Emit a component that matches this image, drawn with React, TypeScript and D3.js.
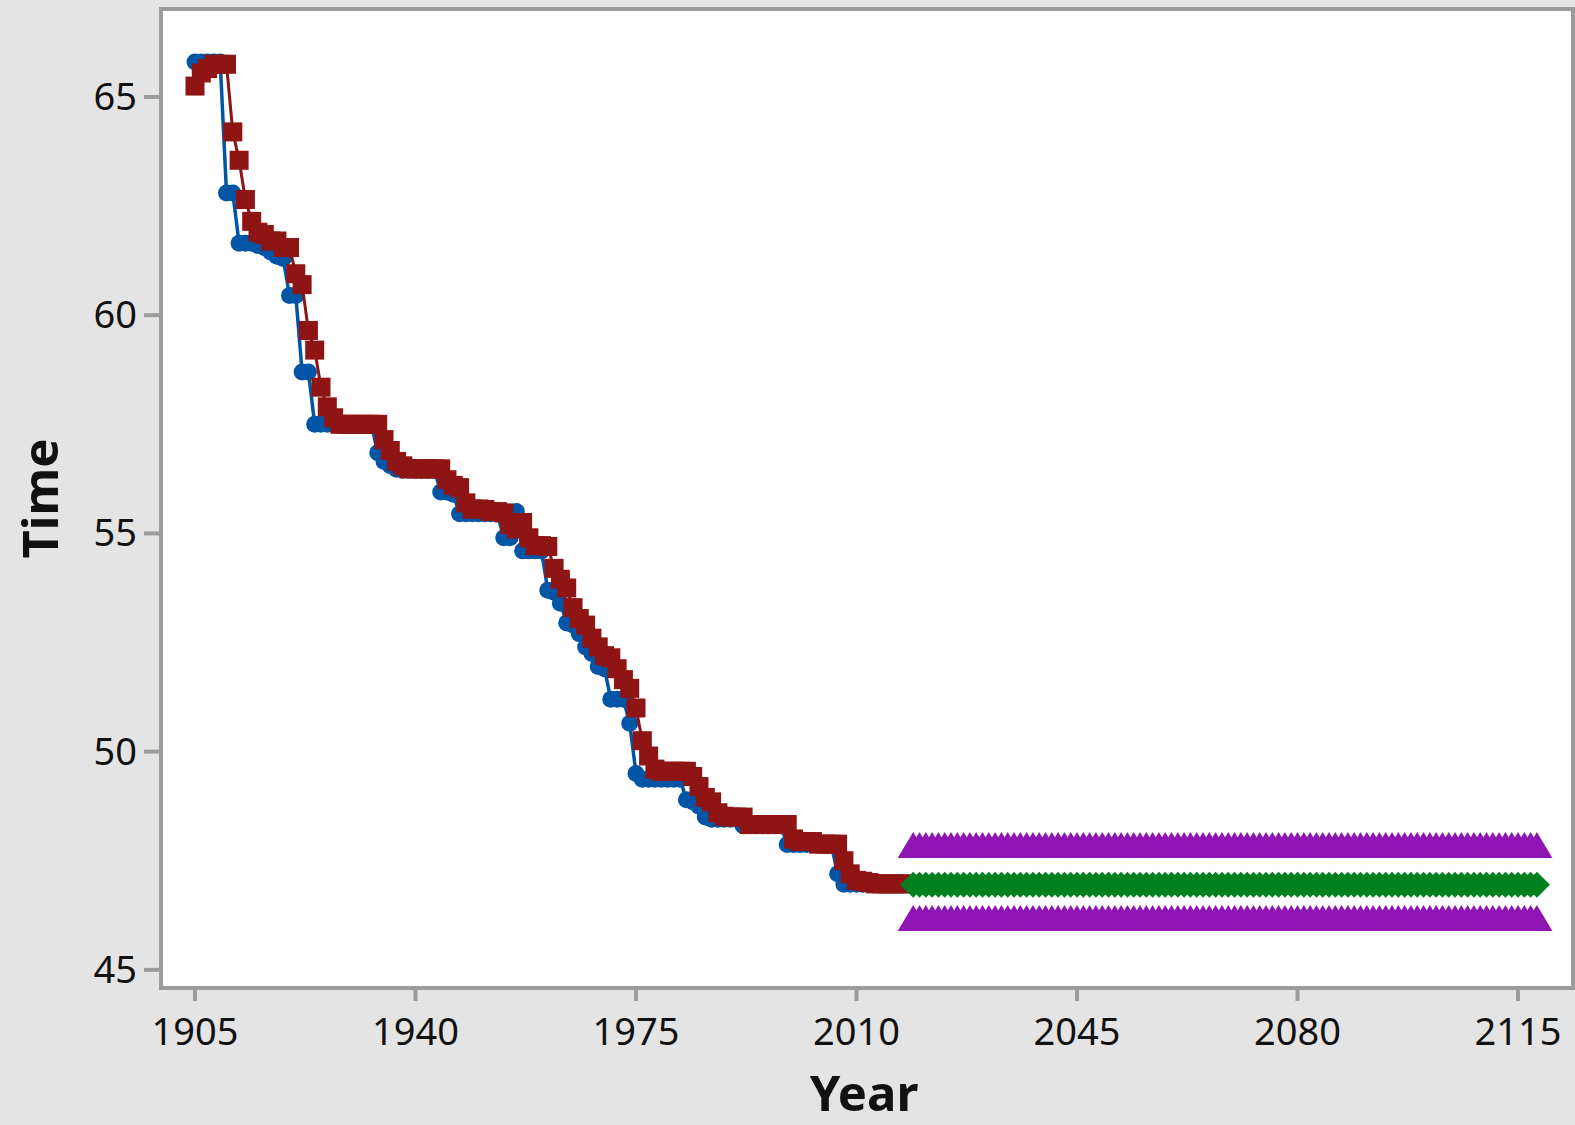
import React from "react";
import * as d3 from "d3";

// ---------- data ----------
const actualYears: number[] = d3.range(1905, 2019);
const forecastYears: number[] = d3.range(2019, 2119);

// Actual series (blue circles)
const actual: number[] = [
  // 1905-1909
  65.8, 65.8, 65.8, 65.8, 65.8,
  // 1910-1919
  62.8, 62.8, 61.65, 61.65, 61.65, 61.6, 61.55, 61.45, 61.35, 61.3,
  // 1920-1929
  60.45, 60.45, 58.7, 58.7, 57.5, 57.5, 57.5, 57.5, 57.5, 57.5,
  // 1930-1939
  57.5, 57.5, 57.5, 57.5, 56.85, 56.65, 56.55, 56.47, 56.45, 56.45,
  // 1940-1949
  56.45, 56.45, 56.45, 56.45, 55.95, 55.95, 55.9, 55.45, 55.45, 55.45,
  // 1950-1959
  55.45, 55.45, 55.45, 55.45, 54.9, 54.9, 55.5, 54.6, 54.6, 54.6,
  // 1960-1969
  54.6, 53.7, 53.65, 53.4, 52.95, 52.9, 52.7, 52.4, 52.25, 51.95,
  // 1970-1979
  51.9, 51.2, 51.2, 51.2, 50.65, 49.5, 49.37, 49.37, 49.37, 49.37,
  // 1980-1989
  49.37, 49.37, 49.37, 48.9, 48.85, 48.75, 48.5, 48.45, 48.45, 48.45,
  // 1990-1999
  48.45, 48.45, 48.3, 48.3, 48.3, 48.3, 48.3, 48.3, 48.3, 47.87,
  // 2000-2009
  47.87, 47.87, 47.87, 47.87, 47.87, 47.87, 47.87, 47.2, 46.96, 46.96,
  // 2010-2018
  46.96, 46.96, 46.96, 46.96, 46.96, 46.96, 46.96, 46.96, 46.96,
];

// Fits (red squares)
const fits: number[] = [
  // 1905-1909
  65.25, 65.55, 65.65, 65.75, 65.75,
  // 1910-1919
  65.75, 64.2, 63.55, 62.65, 62.15, 61.9, 61.85, 61.7, 61.7, 61.55,
  // 1920-1929
  61.55, 60.95, 60.7, 59.65, 59.2, 58.35, 57.9, 57.65, 57.5, 57.5,
  // 1930-1939
  57.5, 57.5, 57.5, 57.5, 57.5, 57.15, 56.9, 56.65, 56.55, 56.48,
  // 1940-1949
  56.48, 56.48, 56.48, 56.48, 56.48, 56.23, 56.1, 56.05, 55.7, 55.56,
  // 1950-1959
  55.56, 55.55, 55.5, 55.5, 55.47, 55.2, 55.1, 55.25, 54.9, 54.72,
  // 1960-1969
  54.72, 54.7, 54.2, 53.95, 53.75, 53.3, 53.05, 52.9, 52.6, 52.4,
  // 1970-1979
  52.2, 52.15, 51.9, 51.65, 51.45, 51.0, 50.25, 49.9, 49.6, 49.55,
  // 1980-1989
  49.55, 49.55, 49.55, 49.55, 49.43, 49.2, 48.95, 48.85, 48.6, 48.52,
  // 1990-1999
  48.5, 48.5, 48.5, 48.33, 48.33, 48.33, 48.33, 48.33, 48.33, 48.33,
  // 2000-2009
  48.0, 47.94, 47.94, 47.94, 47.88, 47.88, 47.88, 47.88, 47.5, 47.2,
  // 2010-2018
  47.05, 47.03, 47.0, 46.97, 46.97, 46.97, 46.97, 46.97, 46.97,
];

// Forecasts 2019-2118 (green diamonds)
const forecast: number[] = [
  46.95, 46.95, 46.95, 46.95, 46.95, 46.95, 46.95, 46.95, 46.95, 46.95,
  46.95, 46.95, 46.95, 46.95, 46.95, 46.95, 46.95, 46.95, 46.95, 46.95,
  46.95, 46.95, 46.95, 46.95, 46.95, 46.95, 46.95, 46.95, 46.95, 46.95,
  46.95, 46.95, 46.95, 46.95, 46.95, 46.95, 46.95, 46.95, 46.95, 46.95,
  46.95, 46.95, 46.95, 46.95, 46.95, 46.95, 46.95, 46.95, 46.95, 46.95,
  46.95, 46.95, 46.95, 46.95, 46.95, 46.95, 46.95, 46.95, 46.95, 46.95,
  46.95, 46.95, 46.95, 46.95, 46.95, 46.95, 46.95, 46.95, 46.95, 46.95,
  46.95, 46.95, 46.95, 46.95, 46.95, 46.95, 46.95, 46.95, 46.95, 46.95,
  46.95, 46.95, 46.95, 46.95, 46.95, 46.95, 46.95, 46.95, 46.95, 46.95,
  46.95, 46.95, 46.95, 46.95, 46.95, 46.95, 46.95, 46.95, 46.95, 46.95,
];

// Upper prediction limit (purple triangles)
const upper: number[] = [
  47.86, 47.86, 47.86, 47.86, 47.86, 47.86, 47.86, 47.86, 47.86, 47.86,
  47.86, 47.86, 47.86, 47.86, 47.86, 47.86, 47.86, 47.86, 47.86, 47.86,
  47.86, 47.86, 47.86, 47.86, 47.86, 47.86, 47.86, 47.86, 47.86, 47.86,
  47.86, 47.86, 47.86, 47.86, 47.86, 47.86, 47.86, 47.86, 47.86, 47.86,
  47.86, 47.86, 47.86, 47.86, 47.86, 47.86, 47.86, 47.86, 47.86, 47.86,
  47.86, 47.86, 47.86, 47.86, 47.86, 47.86, 47.86, 47.86, 47.86, 47.86,
  47.86, 47.86, 47.86, 47.86, 47.86, 47.86, 47.86, 47.86, 47.86, 47.86,
  47.86, 47.86, 47.86, 47.86, 47.86, 47.86, 47.86, 47.86, 47.86, 47.86,
  47.86, 47.86, 47.86, 47.86, 47.86, 47.86, 47.86, 47.86, 47.86, 47.86,
  47.86, 47.86, 47.86, 47.86, 47.86, 47.86, 47.86, 47.86, 47.86, 47.86,
];

// Lower prediction limit (purple triangles)
const lower: number[] = [
  46.19, 46.19, 46.19, 46.19, 46.19, 46.19, 46.19, 46.19, 46.19, 46.19,
  46.19, 46.19, 46.19, 46.19, 46.19, 46.19, 46.19, 46.19, 46.19, 46.19,
  46.19, 46.19, 46.19, 46.19, 46.19, 46.19, 46.19, 46.19, 46.19, 46.19,
  46.19, 46.19, 46.19, 46.19, 46.19, 46.19, 46.19, 46.19, 46.19, 46.19,
  46.19, 46.19, 46.19, 46.19, 46.19, 46.19, 46.19, 46.19, 46.19, 46.19,
  46.19, 46.19, 46.19, 46.19, 46.19, 46.19, 46.19, 46.19, 46.19, 46.19,
  46.19, 46.19, 46.19, 46.19, 46.19, 46.19, 46.19, 46.19, 46.19, 46.19,
  46.19, 46.19, 46.19, 46.19, 46.19, 46.19, 46.19, 46.19, 46.19, 46.19,
  46.19, 46.19, 46.19, 46.19, 46.19, 46.19, 46.19, 46.19, 46.19, 46.19,
  46.19, 46.19, 46.19, 46.19, 46.19, 46.19, 46.19, 46.19, 46.19, 46.19,
];

const xTicks: number[] = [1905, 1940, 1975, 2010, 2045, 2080, 2115];
const yTicks: number[] = [45, 50, 55, 60, 65];
const xTitle = "Year";
const yTitle = "Time";

// ---------- layout ----------
const W = 1575;
const H = 1125;
const plot = { left: 163, right: 1571, top: 11, bottom: 986 };
const BG = "#e4e4e4";
const FRAME = "#9c9c9c";
const FONT = "'Noto Sans', 'Open Sans', 'DejaVu Sans', sans-serif";

const COL_ACTUAL = "#0055a6";
const COL_FITS = "#8f1414";
const COL_FC = "#00801e";
const COL_PI = "#8e15b4";

type Pt = { year: number; v: number };
const zip = (ys: number[], vs: number[]): Pt[] => ys.map((yr, i) => ({ year: yr, v: vs[i] }));

export default function App() {
  const x = d3.scaleLinear().domain([1899.92, 2123.41]).range([plot.left, plot.right]);
  const y = d3.scaleLinear().domain([44.63, 66.97]).range([plot.bottom, plot.top]);

  const line = d3
    .line<Pt>()
    .x((d) => x(d.year))
    .y((d) => y(d.v));

  const actualPts = zip(actualYears, actual);
  const fitPts = zip(actualYears, fits);
  const fcPts = zip(forecastYears, forecast);
  const upPts = zip(forecastYears, upper);
  const loPts = zip(forecastYears, lower);

  const sq = 19;
  const dh = 13;
  const tw = 15.5;
  const th = 13;

  return (
    <div style={{ position: "fixed", left: 0, top: 0 }}>
      <svg width={W} height={H} style={{ display: "block" }} fontFamily={FONT}>
        <rect x={0} y={0} width={W} height={H} fill={BG} />
        <rect
          x={161}
          y={9}
          width={1412}
          height={979}
          fill="#ffffff"
          stroke={FRAME}
          strokeWidth={4}
        />
        <defs>
          <clipPath id="plotclip">
            <rect x={plot.left} y={plot.top} width={plot.right - plot.left} height={plot.bottom - plot.top} />
          </clipPath>
        </defs>

        <g clipPath="url(#plotclip)">
          {/* Actual */}
          <path d={line(actualPts) || ""} fill="none" stroke={COL_ACTUAL} strokeWidth={3.5} />
          {actualPts.map((d, i) => (
            <circle key={"a" + i} cx={x(d.year)} cy={y(d.v)} r={8.5} fill={COL_ACTUAL} />
          ))}
          {/* Fits */}
          <path d={line(fitPts) || ""} fill="none" stroke={COL_FITS} strokeWidth={3} />
          {fitPts.map((d, i) => (
            <rect
              key={"f" + i}
              x={x(d.year) - sq / 2}
              y={y(d.v) - sq / 2}
              width={sq}
              height={sq}
              fill={COL_FITS}
            />
          ))}
          {/* Forecasts */}
          <path d={line(fcPts) || ""} fill="none" stroke={COL_FC} strokeWidth={3} />
          {fcPts.map((d, i) => {
            const cx = x(d.year);
            const cy = y(d.v);
            return (
              <polygon
                key={"g" + i}
                points={`${cx},${cy - dh} ${cx + dh},${cy} ${cx},${cy + dh} ${cx - dh},${cy}`}
                fill={COL_FC}
              />
            );
          })}
          {/* Lower / Upper */}
          {[loPts, upPts].map((pts, k) => (
            <g key={"pi" + k}>
              <path d={line(pts) || ""} fill="none" stroke={COL_PI} strokeWidth={3} />
              {pts.map((d, i) => {
                const cx = x(d.year);
                const cy = y(d.v);
                return (
                  <polygon
                    key={"t" + k + "-" + i}
                    points={`${cx},${cy - th} ${cx + tw},${cy + th} ${cx - tw},${cy + th}`}
                    fill={COL_PI}
                  />
                );
              })}
            </g>
          ))}
        </g>

        {/* Y axis ticks */}
        {yTicks.map((t) => (
          <g key={"yt" + t}>
            <line x1={144} x2={159} y1={y(t)} y2={y(t)} stroke={FRAME} strokeWidth={4} />
            <text x={137} y={y(t) + 13} textAnchor="end" fontSize={38} fill="#111">
              {t}
            </text>
          </g>
        ))}

        {/* X axis ticks */}
        {xTicks.map((t) => (
          <g key={"xt" + t}>
            <line x1={x(t)} x2={x(t)} y1={989} y2={1001} stroke={FRAME} strokeWidth={4} />
            <text x={x(t)} y={1045} textAnchor="middle" fontSize={38} fill="#111">
              {t}
            </text>
          </g>
        ))}

        {/* Axis titles */}
        <text x={864} y={1111} textAnchor="middle" fontSize={49} fontWeight={700} fill="#111">
          {xTitle}
        </text>
        <text
          transform={`translate(58, ${(plot.top + plot.bottom) / 2}) rotate(-90)`}
          textAnchor="middle"
          fontSize={49}
          fontWeight={700}
          fill="#111"
        >
          {yTitle}
        </text>
      </svg>
    </div>
  );
}
